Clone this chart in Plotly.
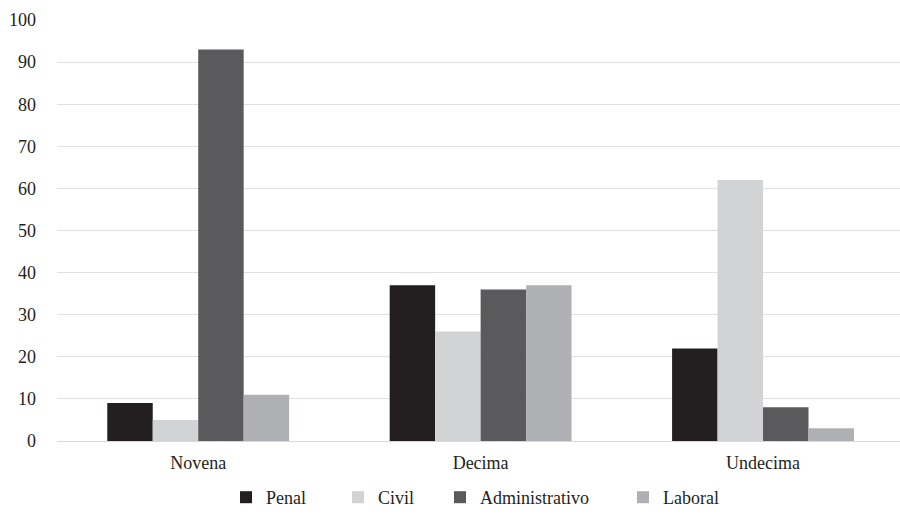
import plotly.graph_objects as go

# Salas (categories) and counts per area of law
salas = ["Novena", "Decima", "Undecima"]
penal = [9, 37, 22]
civil = [5, 26, 62]
administrativo = [93, 36, 8]
laboral = [11, 37, 3]

y_ticks = list(range(0, 101, 10))

series = [
    ("Penal", penal, "#231f20"),
    ("Civil", civil, "#d1d3d4"),
    ("Administrativo", administrativo, "#5a5a5c"),
    ("Laboral", laboral, "#afb0b3"),
]
# left edge (px) of each legend entry along the bottom row
legend_left = [226, 338, 440, 623]

fig = go.Figure()
for i, (name, vals, color) in enumerate(series):
    lg = "legend" if i == 0 else f"legend{i+1}"
    fig.add_trace(go.Bar(x=salas, y=vals, name=name, legend=lg,
                         marker_color=color, marker_line_width=0))

font_family = "Liberation Serif"
legend_common = dict(orientation="h", xref="container", yref="container",
                     xanchor="left", yanchor="bottom", y=0.0,
                     itemwidth=30, bgcolor="rgba(0,0,0,0)",
                     font=dict(family=font_family, size=18))
legends = {}
for i, left in enumerate(legend_left):
    key = "legend" if i == 0 else f"legend{i+1}"
    legends[key] = dict(legend_common, x=left / 900)

fig.update_layout(
    width=900, height=516,
    margin=dict(l=57, r=0, t=20, b=75),
    paper_bgcolor="white", plot_bgcolor="white",
    font=dict(family=font_family, size=18, color="#231f20"),
    barmode="group", bargap=0.356, bargroupgap=0,
    showlegend=True,
    xaxis=dict(range=[-0.5, 2.485], showgrid=False, showline=False,
               ticks="", ticklabelstandoff=9),
    yaxis=dict(range=[0, 100], tickvals=y_ticks, showgrid=True,
               gridcolor="#e0e0e0", gridwidth=1, zeroline=True,
               zerolinecolor="#d8d8d8", zerolinewidth=1,
               showline=False, ticks="", ticklabelstandoff=20),
    **legends,
)

fig.write_html("out.html")
